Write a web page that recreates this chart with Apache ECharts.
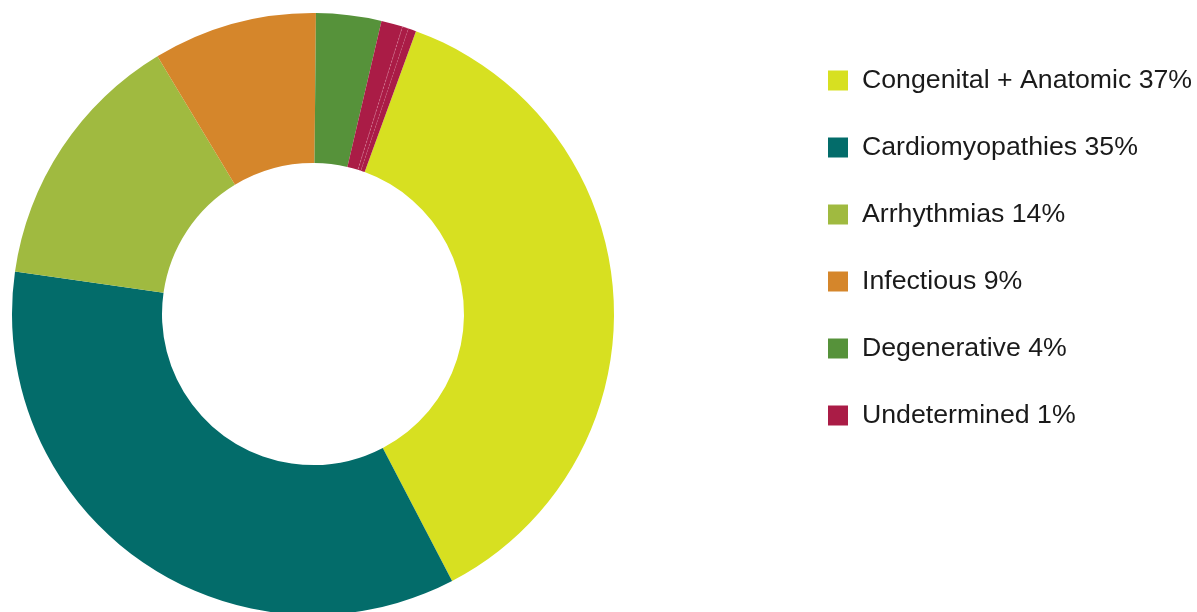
<!DOCTYPE html>
<html>
<head>
<meta charset="utf-8">
<script src="https://cdn.jsdelivr.net/npm/echarts@6/dist/echarts.min.js"></script>
<style>
  html, body { margin: 0; padding: 0; background: #fff; }
  #chart { width: 1197px; height: 612px; }
</style>
</head>
<body>
<div id="chart"></div>
<script>
// slice names as shown in the legend, plus two unlabelled red slivers
const names = ['Congenital + Anatomic 37%', 'Cardiomyopathies 35%', 'Arrhythmias 14%',
  'Infectious 9%', 'Degenerative 4%', 'Undetermined 1%', 'Undetermined (b)', 'Undetermined (c)']
// shares (percent)
const values = [36.8, 34.9, 14.1, 8.8, 3.5, 1.15, 0.33, 0.42]
const colors = ['#d7e021', '#036c6a', '#a0ba40', '#d5862b', '#56923a', '#aa1c46', '#aa1c46', '#aa1c46']
const legendNames = names.slice(0, 6)

const chart = echarts.init(document.getElementById('chart'))

const data = names.map((n, i) => {
  const item = { name: n, value: values[i], itemStyle: { color: colors[i] } }
  if (i === 6) {
    item.itemStyle.borderColor = 'rgba(240, 170, 190, 0.7)'
    item.itemStyle.borderWidth = 0.5
    item.itemStyle.borderType = [2, 2]
  }
  return item
})

chart.setOption({
  backgroundColor: '#fff',
  animation: false,
  legend: {
    data: legendNames,
    orient: 'vertical',
    left: 828,
    top: 67,
    padding: 0,
    itemWidth: 20,
    itemHeight: 20,
    itemGap: 40,
    icon: 'rect',
    selectedMode: false,
    textStyle: {
      fontFamily: 'Liberation Sans',
      fontSize: 26.7,
      lineHeight: 24,
      color: '#1a1a1a',
      padding: [0, 0, 0, 9]
    }
  },
  series: [{
    type: 'pie',
    center: [313, 314],
    radius: [151, 301],
    startAngle: 70,
    clockwise: true,
    avoidLabelOverlap: false,
    label: { show: false },
    labelLine: { show: false },
    emphasis: { disabled: true },
    itemStyle: { borderWidth: 0 },
    data: data
  }]
})
</script>
</body>
</html>
